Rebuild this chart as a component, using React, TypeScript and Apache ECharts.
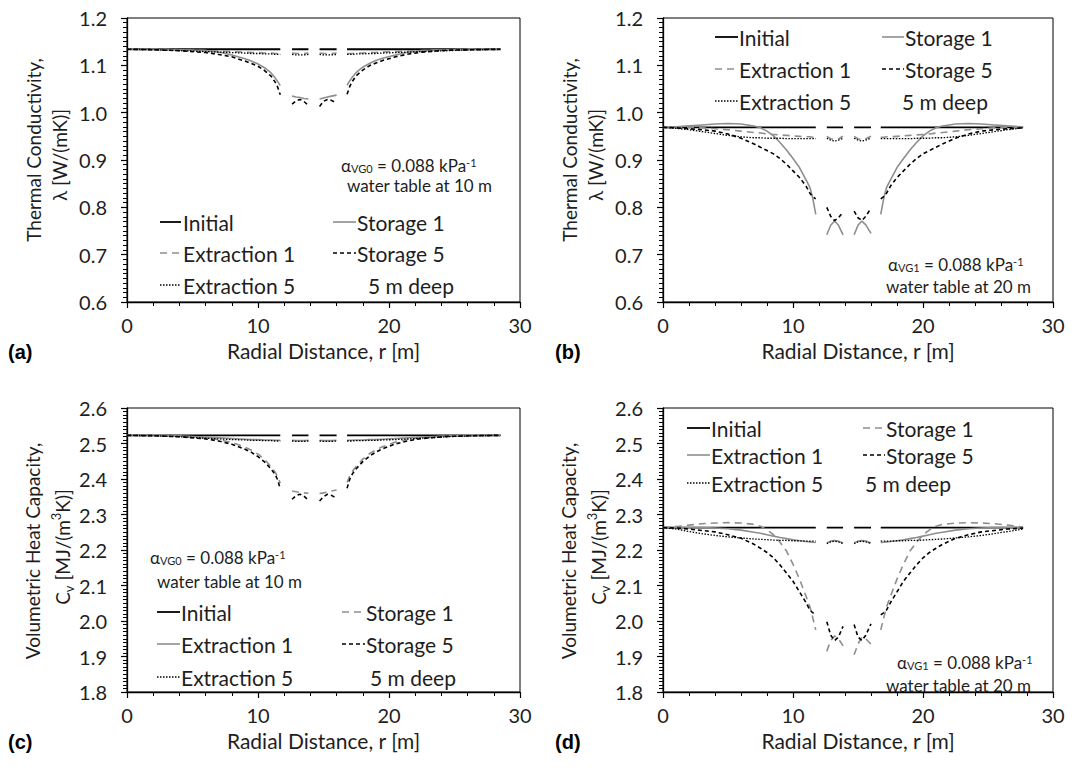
import React, { useEffect, useRef } from "react";
import * as echarts from "echarts";

// ---------- radial distance grids (null values in series mark the gaps) ----------
const rAC = [0, 2, 4, 6, 7, 8, 9, 9.5, 10, 10.5, 11, 11.3, 11.5, 11.7, 12.15, 12.6, 12.9, 13.2, 13.5, 13.85, 14.3, 14.7, 15.0, 15.3, 15.6, 16.0, 16.4, 16.8, 17.0, 17.2, 17.5, 18, 18.5, 19, 19.5, 20.5, 21.5, 22.5, 24.5, 26.5, 28.5];
const rBD = [0, 1, 2, 3, 4, 5, 6, 7, 7.5, 8, 8.5, 9, 9.5, 10, 10.5, 11, 11.3, 11.5, 11.75, 12.2, 12.6, 12.9, 13.2, 13.5, 13.85, 14.3, 14.7, 15.0, 15.3, 15.6, 16.0, 16.4, 16.75, 17.0, 17.2, 17.5, 18, 18.5, 19, 19.5, 20, 20.5, 21, 21.5, 22.5, 23.5, 24.5, 25.5, 26.5, 27.7];

// ---------- panel (a): thermal conductivity, water table at 10 m ----------
const aInitial = [1.134, 1.134, 1.134, 1.134, 1.134, 1.134, 1.134, 1.134, 1.134, 1.134, 1.134, 1.134, 1.134, 1.134, null, 1.134, 1.134, 1.134, 1.134, 1.134, null, 1.134, 1.134, 1.134, 1.134, 1.134, null, 1.134, 1.134, 1.134, 1.134, 1.134, 1.134, 1.134, 1.134, 1.134, 1.134, 1.134, 1.134, 1.134, 1.134];
const aStorage1 = [1.134, 1.134, 1.133, 1.131, 1.128, 1.122, 1.114, 1.109, 1.103, 1.095, 1.084, 1.074, 1.066, 1.057, null, 1.035, 1.033, 1.032, 1.030, 1.029, null, 1.029, 1.031, 1.033, 1.035, 1.037, null, 1.058, 1.067, 1.075, 1.085, 1.096, 1.104, 1.110, 1.115, 1.122, 1.128, 1.131, 1.133, 1.134, 1.134];
const aExtraction1 = [1.134, 1.134, 1.133, 1.131, 1.130, 1.129, 1.128, 1.127, 1.127, 1.126, 1.126, 1.125, 1.125, 1.125, null, 1.126, 1.125, 1.125, 1.125, 1.126, null, 1.126, 1.125, 1.125, 1.125, 1.126, null, 1.125, 1.125, 1.125, 1.126, 1.126, 1.127, 1.127, 1.128, 1.129, 1.130, 1.131, 1.133, 1.134, 1.134];
const aStorage5 = [1.134, 1.133, 1.131, 1.127, 1.123, 1.118, 1.109, 1.104, 1.098, 1.089, 1.077, 1.065, 1.054, 1.038, null, 1.018, 1.025, 1.028, 1.024, 1.015, null, 1.013, 1.024, 1.028, 1.026, 1.020, null, 1.039, 1.055, 1.066, 1.078, 1.090, 1.099, 1.105, 1.110, 1.118, 1.124, 1.128, 1.132, 1.133, 1.134];
const aExtraction5 = [1.134, 1.133, 1.131, 1.129, 1.128, 1.127, 1.126, 1.125, 1.125, 1.124, 1.124, 1.123, 1.123, 1.123, null, 1.123, 1.122, 1.122, 1.122, 1.123, null, 1.123, 1.122, 1.122, 1.122, 1.123, null, 1.123, 1.123, 1.123, 1.124, 1.124, 1.125, 1.125, 1.126, 1.127, 1.128, 1.129, 1.131, 1.133, 1.134];

// ---------- panel (b): thermal conductivity, water table at 20 m ----------
const bInitial = [0.969, 0.969, 0.969, 0.969, 0.969, 0.969, 0.969, 0.969, 0.969, 0.969, 0.969, 0.969, 0.969, 0.969, 0.969, 0.969, 0.969, 0.969, 0.969, null, 0.969, 0.969, 0.969, 0.969, 0.969, null, 0.969, 0.969, 0.969, 0.969, 0.969, null, 0.969, 0.969, 0.969, 0.969, 0.969, 0.969, 0.969, 0.969, 0.969, 0.969, 0.969, 0.969, 0.969, 0.969, 0.969, 0.969, 0.969, 0.969];
const bStorage1 = [0.969, 0.970, 0.972, 0.974, 0.976, 0.977, 0.976, 0.972, 0.968, 0.961, 0.951, 0.937, 0.921, 0.903, 0.884, 0.858, 0.842, 0.822, 0.785, null, 0.742, 0.762, 0.771, 0.762, 0.742, null, 0.742, 0.762, 0.771, 0.763, 0.745, null, 0.785, 0.822, 0.842, 0.858, 0.884, 0.903, 0.921, 0.937, 0.951, 0.961, 0.968, 0.972, 0.976, 0.977, 0.976, 0.974, 0.972, 0.970];
const bExtraction1 = [0.969, 0.969, 0.969, 0.968, 0.966, 0.964, 0.961, 0.958, 0.957, 0.955, 0.954, 0.953, 0.952, 0.951, 0.950, 0.949, 0.949, 0.948, 0.948, null, 0.950, 0.945, 0.943, 0.945, 0.950, null, 0.950, 0.945, 0.943, 0.945, 0.950, null, 0.948, 0.948, 0.949, 0.949, 0.950, 0.951, 0.952, 0.953, 0.954, 0.955, 0.957, 0.958, 0.961, 0.964, 0.966, 0.968, 0.969, 0.969];
const bStorage5 = [0.969, 0.968, 0.966, 0.964, 0.961, 0.955, 0.946, 0.934, 0.927, 0.920, 0.913, 0.903, 0.891, 0.877, 0.863, 0.845, 0.830, 0.823, 0.818, null, 0.800, 0.781, 0.772, 0.778, 0.790, null, 0.792, 0.778, 0.772, 0.781, 0.798, null, 0.818, 0.823, 0.830, 0.845, 0.863, 0.877, 0.891, 0.903, 0.913, 0.920, 0.927, 0.934, 0.946, 0.955, 0.961, 0.964, 0.966, 0.968];
const bExtraction5 = [0.969, 0.967, 0.964, 0.960, 0.956, 0.952, 0.949, 0.947, 0.947, 0.946, 0.946, 0.946, 0.945, 0.945, 0.945, 0.945, 0.945, 0.945, 0.945, null, 0.946, 0.942, 0.940, 0.942, 0.946, null, 0.946, 0.942, 0.940, 0.942, 0.946, null, 0.945, 0.945, 0.945, 0.945, 0.945, 0.945, 0.945, 0.946, 0.946, 0.946, 0.947, 0.947, 0.949, 0.952, 0.956, 0.960, 0.964, 0.968];

// ---------- panel (c): volumetric heat capacity, water table at 10 m ----------
const cInitial = [2.523, 2.523, 2.523, 2.523, 2.523, 2.523, 2.523, 2.523, 2.523, 2.523, 2.523, 2.523, 2.523, 2.523, null, 2.523, 2.523, 2.523, 2.523, 2.523, null, 2.523, 2.523, 2.523, 2.523, 2.523, null, 2.523, 2.523, 2.523, 2.523, 2.523, 2.523, 2.523, 2.523, 2.523, 2.523, 2.523, 2.523, 2.523, 2.523];
const cStorage1 = [2.523, 2.523, 2.521, 2.516, 2.511, 2.503, 2.490, 2.481, 2.470, 2.455, 2.435, 2.420, 2.406, 2.388, null, 2.366, 2.364, 2.362, 2.361, 2.360, null, 2.359, 2.361, 2.363, 2.366, 2.369, null, 2.390, 2.408, 2.421, 2.436, 2.456, 2.471, 2.482, 2.491, 2.504, 2.512, 2.517, 2.521, 2.523, 2.523];
const cExtraction1 = [2.523, 2.523, 2.521, 2.518, 2.516, 2.514, 2.512, 2.511, 2.511, 2.510, 2.510, 2.509, 2.509, 2.509, null, 2.509, 2.508, 2.508, 2.508, 2.509, null, 2.509, 2.508, 2.508, 2.508, 2.509, null, 2.509, 2.509, 2.509, 2.510, 2.510, 2.511, 2.511, 2.512, 2.514, 2.516, 2.518, 2.521, 2.523, 2.523];
const cStorage5 = [2.523, 2.522, 2.519, 2.513, 2.507, 2.498, 2.484, 2.475, 2.463, 2.448, 2.428, 2.413, 2.398, 2.372, null, 2.343, 2.353, 2.357, 2.352, 2.340, null, 2.338, 2.350, 2.357, 2.354, 2.346, null, 2.374, 2.399, 2.414, 2.429, 2.449, 2.464, 2.476, 2.485, 2.499, 2.508, 2.514, 2.520, 2.522, 2.523];
const cExtraction5 = [2.523, 2.522, 2.519, 2.515, 2.513, 2.511, 2.510, 2.509, 2.509, 2.508, 2.508, 2.507, 2.507, 2.507, null, 2.507, 2.506, 2.506, 2.506, 2.507, null, 2.507, 2.506, 2.506, 2.506, 2.507, null, 2.507, 2.507, 2.507, 2.508, 2.508, 2.509, 2.509, 2.510, 2.511, 2.513, 2.515, 2.519, 2.522, 2.523];

// ---------- panel (d): volumetric heat capacity, water table at 20 m ----------
const dInitial = [2.263, 2.263, 2.263, 2.263, 2.263, 2.263, 2.263, 2.263, 2.263, 2.263, 2.263, 2.263, 2.263, 2.263, 2.263, 2.263, 2.263, 2.263, 2.263, null, 2.263, 2.263, 2.263, 2.263, 2.263, null, 2.263, 2.263, 2.263, 2.263, 2.263, null, 2.263, 2.263, 2.263, 2.263, 2.263, 2.263, 2.263, 2.263, 2.263, 2.263, 2.263, 2.263, 2.263, 2.263, 2.263, 2.263, 2.263, 2.263];
const dStorage1 = [2.263, 2.266, 2.270, 2.274, 2.276, 2.277, 2.276, 2.272, 2.267, 2.257, 2.243, 2.222, 2.197, 2.160, 2.118, 2.070, 2.040, 2.012, 1.975, null, 1.915, 1.945, 1.958, 1.950, 1.930, null, 1.905, 1.935, 1.955, 1.950, 1.935, null, 1.975, 2.012, 2.040, 2.070, 2.118, 2.160, 2.197, 2.222, 2.243, 2.257, 2.267, 2.272, 2.276, 2.277, 2.276, 2.274, 2.270, 2.265];
const dExtraction1 = [2.263, 2.263, 2.263, 2.263, 2.262, 2.260, 2.256, 2.250, 2.247, 2.243, 2.239, 2.235, 2.232, 2.229, 2.226, 2.224, 2.223, 2.222, 2.221, null, 2.220, 2.225, 2.227, 2.225, 2.220, null, 2.220, 2.225, 2.227, 2.225, 2.220, null, 2.221, 2.222, 2.223, 2.224, 2.226, 2.229, 2.232, 2.235, 2.239, 2.243, 2.247, 2.250, 2.256, 2.260, 2.262, 2.263, 2.263, 2.263];
const dStorage5 = [2.263, 2.262, 2.259, 2.255, 2.251, 2.243, 2.233, 2.216, 2.205, 2.193, 2.178, 2.158, 2.135, 2.112, 2.082, 2.052, 2.031, 2.024, 2.017, null, 1.998, 1.960, 1.945, 1.955, 1.985, null, 1.990, 1.955, 1.945, 1.960, 1.992, null, 2.017, 2.024, 2.031, 2.052, 2.082, 2.112, 2.135, 2.158, 2.178, 2.193, 2.205, 2.216, 2.233, 2.243, 2.251, 2.255, 2.259, 2.262];
const dExtraction5 = [2.263, 2.259, 2.252, 2.246, 2.241, 2.237, 2.234, 2.231, 2.230, 2.229, 2.228, 2.227, 2.227, 2.226, 2.226, 2.225, 2.225, 2.225, 2.225, null, 2.218, 2.223, 2.225, 2.223, 2.218, null, 2.218, 2.223, 2.225, 2.223, 2.218, null, 2.225, 2.225, 2.225, 2.225, 2.226, 2.226, 2.227, 2.227, 2.228, 2.229, 2.230, 2.231, 2.234, 2.237, 2.241, 2.246, 2.252, 2.259];

// ---------- axis ranges / ticks ----------
const xTicks = { min: 0, max: 30, interval: 10 };
const yLambda = { min: 0.6, max: 1.2, interval: 0.1 };
const yCv = { min: 1.8, max: 2.6, interval: 0.1 };

const BLACK = "#000000";
const GRAY = "#8e8e8e";
const TXT = "#1e1e1e";
const FONT = "Lato";

const SOLID: any = "solid";
const LONGDASH = [7, 5];
const SHORTDASH = [4, 3];
const DOT = [1.5, 1.5];

type Sty = { color: string; width: number; dash: any };
const stInitial: Sty = { color: BLACK, width: 1.8, dash: SOLID };
const stGraySolid: Sty = { color: GRAY, width: 1.6, dash: SOLID };
const stGrayDash: Sty = { color: GRAY, width: 1.6, dash: LONGDASH };
const stBlackDash: Sty = { color: BLACK, width: 1.6, dash: SHORTDASH };
const stDot: Sty = { color: BLACK, width: 1.3, dash: DOT };

const grids = [
  { left: 127, top: 18, width: 393, height: 284 },
  { left: 663, top: 18, width: 390, height: 284 },
  { left: 127, top: 408, width: 393, height: 284 },
  { left: 663, top: 408, width: 390, height: 284 },
];

function mkSeries(name: string, gi: number, r: number[], vals: (number | null)[], st: Sty) {
  return {
    type: "line",
    name,
    xAxisIndex: gi,
    yAxisIndex: gi,
    symbol: "none",
    silent: true,
    connectNulls: false,
    lineStyle: { color: st.color, width: st.width, type: st.dash },
    data: r.map((x, i) => [x, vals[i] === null ? "-" : vals[i]]),
  };
}

const LEG_FS = 21;

function legendItems(
  rows: number[],
  c1: [number, number, number],
  c2: [number, number, number],
  deepX: number,
  items: { label: string; st: Sty; col: number; row: number }[]
) {
  const out: any[] = [];
  items.forEach((it) => {
    const c = it.col === 0 ? c1 : c2;
    const y = rows[it.row];
    out.push({
      type: "line",
      silent: true,
      shape: { x1: c[0], y1: y, x2: c[1], y2: y },
      style: {
        stroke: it.st.color,
        lineWidth: it.st.width,
        lineDash: it.st.dash === SOLID ? null : it.st.dash,
      },
    });
    out.push({
      type: "text",
      silent: true,
      x: c[2],
      y,
      style: { text: it.label, fill: TXT, fontSize: LEG_FS, fontFamily: FONT, align: "left", verticalAlign: "middle" },
    });
  });
  out.push({
    type: "text",
    silent: true,
    x: deepX,
    y: rows[2],
    style: { text: "5 m deep", fill: TXT, fontSize: LEG_FS, fontFamily: FONT, align: "left", verticalAlign: "middle" },
  });
  return out;
}

const richNote = {
  m: { fontSize: 17, fontFamily: FONT, fill: TXT, lineHeight: 17 },
  s: { fontSize: 11, fontFamily: FONT, fill: TXT, verticalAlign: "bottom", lineHeight: 8 },
  p: { fontSize: 11, fontFamily: FONT, fill: TXT, verticalAlign: "top", lineHeight: 8 },
};

// "α_VGx = 0.088 kPa^-1" and "water table at .. m" as two separate texts
function note(x: number, y: number, sub: string, x2: number, y2: number, wt: string) {
  return [
    {
      type: "text",
      silent: true,
      x,
      y,
      style: {
        text: `{m|α}{s|${sub}}{m| = 0.088 kPa}{p|-1}`,
        rich: richNote,
        align: "left",
        verticalAlign: "middle",
      },
    },
    {
      type: "text",
      silent: true,
      x: x2,
      y: y2,
      style: { text: wt, fill: TXT, fontSize: 17, fontFamily: FONT, align: "left", verticalAlign: "middle" },
    },
  ];
}

const richTitle = {
  m: { fontSize: 19, fontFamily: FONT, fill: TXT, lineHeight: 26 },
  s: { fontSize: 13, fontFamily: FONT, fill: TXT, verticalAlign: "bottom" },
  p: { fontSize: 13, fontFamily: FONT, fill: TXT, verticalAlign: "top" },
};

function yTitle(x: number, y: number, text: string) {
  return {
    type: "text",
    silent: true,
    x,
    y,
    rotation: Math.PI / 2,
    style: { text, rich: richTitle, align: "center", verticalAlign: "middle" },
  };
}

function panelLabel(x: number, y: number, t: string) {
  return {
    type: "text",
    silent: true,
    x,
    y,
    style: { text: t, fill: BLACK, fontSize: 20, fontWeight: "bold", fontFamily: "Liberation Sans", align: "left", verticalAlign: "middle" },
  };
}

export default function App() {
  const ref = useRef<HTMLDivElement>(null);

  useEffect(() => {
    document.body.style.margin = "0";
    if (!ref.current) return;
    const chart = echarts.init(ref.current, null, { renderer: "svg" });

    const xAxes = grids.map((_, i) => ({
      type: "value",
      gridIndex: i,
      ...xTicks,
      name: "Radial Distance, r [m]",
      nameLocation: "middle",
      nameGap: 38,
      nameTextStyle: { fontSize: 21, fontFamily: FONT, color: TXT },
      axisLine: { show: true, onZero: false, lineStyle: { color: BLACK, width: 1.3 } },
      axisTick: { show: true, length: 6, lineStyle: { color: BLACK, width: 1.2 } },
      minorTick: { show: true, splitNumber: 5, length: 4, lineStyle: { color: BLACK, width: 1 } },
      splitLine: { show: false },
      minorSplitLine: { show: false },
      axisLabel: { fontSize: 20, fontFamily: FONT, color: TXT, margin: 13 },
    }));

    const yAxes = grids.map((_, i) => ({
      type: "value",
      gridIndex: i,
      ...(i < 2 ? yLambda : yCv),
      axisLine: { show: true, onZero: false, lineStyle: { color: BLACK, width: 1.3 } },
      axisTick: { show: true, length: 6, lineStyle: { color: BLACK, width: 1.2 } },
      minorTick: { show: true, splitNumber: 10, length: 4, lineStyle: { color: BLACK, width: 1 } },
      splitLine: { show: false },
      minorSplitLine: { show: false },
      axisLabel: {
        fontSize: 20,
        fontFamily: FONT,
        color: TXT,
        margin: 20,
        formatter: (v: number) => v.toFixed(1),
      },
    }));

    const series = [
      mkSeries("Initial", 0, rAC, aInitial, stInitial),
      mkSeries("Storage 1", 0, rAC, aStorage1, stGraySolid),
      mkSeries("Extraction 1", 0, rAC, aExtraction1, stGrayDash),
      mkSeries("Storage 5", 0, rAC, aStorage5, stBlackDash),
      mkSeries("Extraction 5", 0, rAC, aExtraction5, stDot),

      mkSeries("Initial", 1, rBD, bInitial, stInitial),
      mkSeries("Storage 1", 1, rBD, bStorage1, stGraySolid),
      mkSeries("Extraction 1", 1, rBD, bExtraction1, stGrayDash),
      mkSeries("Storage 5", 1, rBD, bStorage5, stBlackDash),
      mkSeries("Extraction 5", 1, rBD, bExtraction5, stDot),

      mkSeries("Initial", 2, rAC, cInitial, stInitial),
      mkSeries("Storage 1", 2, rAC, cStorage1, stGrayDash),
      mkSeries("Extraction 1", 2, rAC, cExtraction1, stGraySolid),
      mkSeries("Storage 5", 2, rAC, cStorage5, stBlackDash),
      mkSeries("Extraction 5", 2, rAC, cExtraction5, stDot),

      mkSeries("Initial", 3, rBD, dInitial, stInitial),
      mkSeries("Storage 1", 3, rBD, dStorage1, stGrayDash),
      mkSeries("Extraction 1", 3, rBD, dExtraction1, stGraySolid),
      mkSeries("Storage 5", 3, rBD, dStorage5, stBlackDash),
      mkSeries("Extraction 5", 3, rBD, dExtraction5, stDot),
    ];

    const graphics: any[] = [
      // legends
      ...legendItems([222, 253, 285], [160, 181, 183], [333, 356, 357], 368, [
        { label: "Initial", st: stInitial, col: 0, row: 0 },
        { label: "Extraction 1", st: stGrayDash, col: 0, row: 1 },
        { label: "Extraction 5", st: stDot, col: 0, row: 2 },
        { label: "Storage 1", st: stGraySolid, col: 1, row: 0 },
        { label: "Storage 5", st: stBlackDash, col: 1, row: 1 },
      ]),
      ...legendItems([37, 69, 101], [715, 738, 739], [882, 904, 905], 902, [
        { label: "Initial", st: stInitial, col: 0, row: 0 },
        { label: "Extraction 1", st: stGrayDash, col: 0, row: 1 },
        { label: "Extraction 5", st: stDot, col: 0, row: 2 },
        { label: "Storage 1", st: stGraySolid, col: 1, row: 0 },
        { label: "Storage 5", st: stBlackDash, col: 1, row: 1 },
      ]),
      ...legendItems([612, 644, 677], [157, 180, 181], [342, 365, 366], 370, [
        { label: "Initial", st: stInitial, col: 0, row: 0 },
        { label: "Extraction 1", st: stGraySolid, col: 0, row: 1 },
        { label: "Extraction 5", st: stDot, col: 0, row: 2 },
        { label: "Storage 1", st: stGrayDash, col: 1, row: 0 },
        { label: "Storage 5", st: stBlackDash, col: 1, row: 1 },
      ]),
      ...legendItems([428, 455, 483], [687, 710, 711], [863, 885, 886], 865, [
        { label: "Initial", st: stInitial, col: 0, row: 0 },
        { label: "Extraction 1", st: stGraySolid, col: 0, row: 1 },
        { label: "Extraction 5", st: stDot, col: 0, row: 2 },
        { label: "Storage 1", st: stGrayDash, col: 1, row: 0 },
        { label: "Storage 5", st: stBlackDash, col: 1, row: 1 },
      ]),
      // annotations
      ...note(341, 165, "VG0", 347, 185, "water table at 10 m"),
      ...note(888, 264, "VG1", 886, 286, "water table at 20 m"),
      ...note(150, 557, "VG0", 157, 581, "water table at 10 m"),
      ...note(897, 662, "VG1", 886, 685, "water table at 20 m"),
      // y-axis titles
      yTitle(33, 150, "{m|Thermal Conductivity,}"),
      yTitle(59, 155, "{m|λ [W/(mK)]}"),
      yTitle(569, 150, "{m|Thermal Conductivity,}"),
      yTitle(595, 155, "{m|λ [W/(mK)]}"),
      yTitle(32, 551, "{m|Volumetric Heat Capacity,}"),
      yTitle(62, 547, "{m|C}{s|v}{m| [MJ/(m}{p|3}{m|K)]}"),
      yTitle(568, 551, "{m|Volumetric Heat Capacity,}"),
      yTitle(598, 547, "{m|C}{s|v}{m| [MJ/(m}{p|3}{m|K)]}"),
      // panel labels
      panelLabel(8, 352, "(a)"),
      panelLabel(555, 352, "(b)"),
      panelLabel(8, 742, "(c)"),
      panelLabel(555, 742, "(d)"),
    ];

    chart.setOption({
      animation: false,
      backgroundColor: "#ffffff",
      grid: grids.map((g) => ({ ...g, show: true, borderColor: BLACK, borderWidth: 1, backgroundColor: "transparent" })),
      xAxis: xAxes,
      yAxis: yAxes,
      series,
      graphic: graphics,
    });

    return () => chart.dispose();
  }, []);

  return <div ref={ref} style={{ width: 1075, height: 772 }} />;
}
